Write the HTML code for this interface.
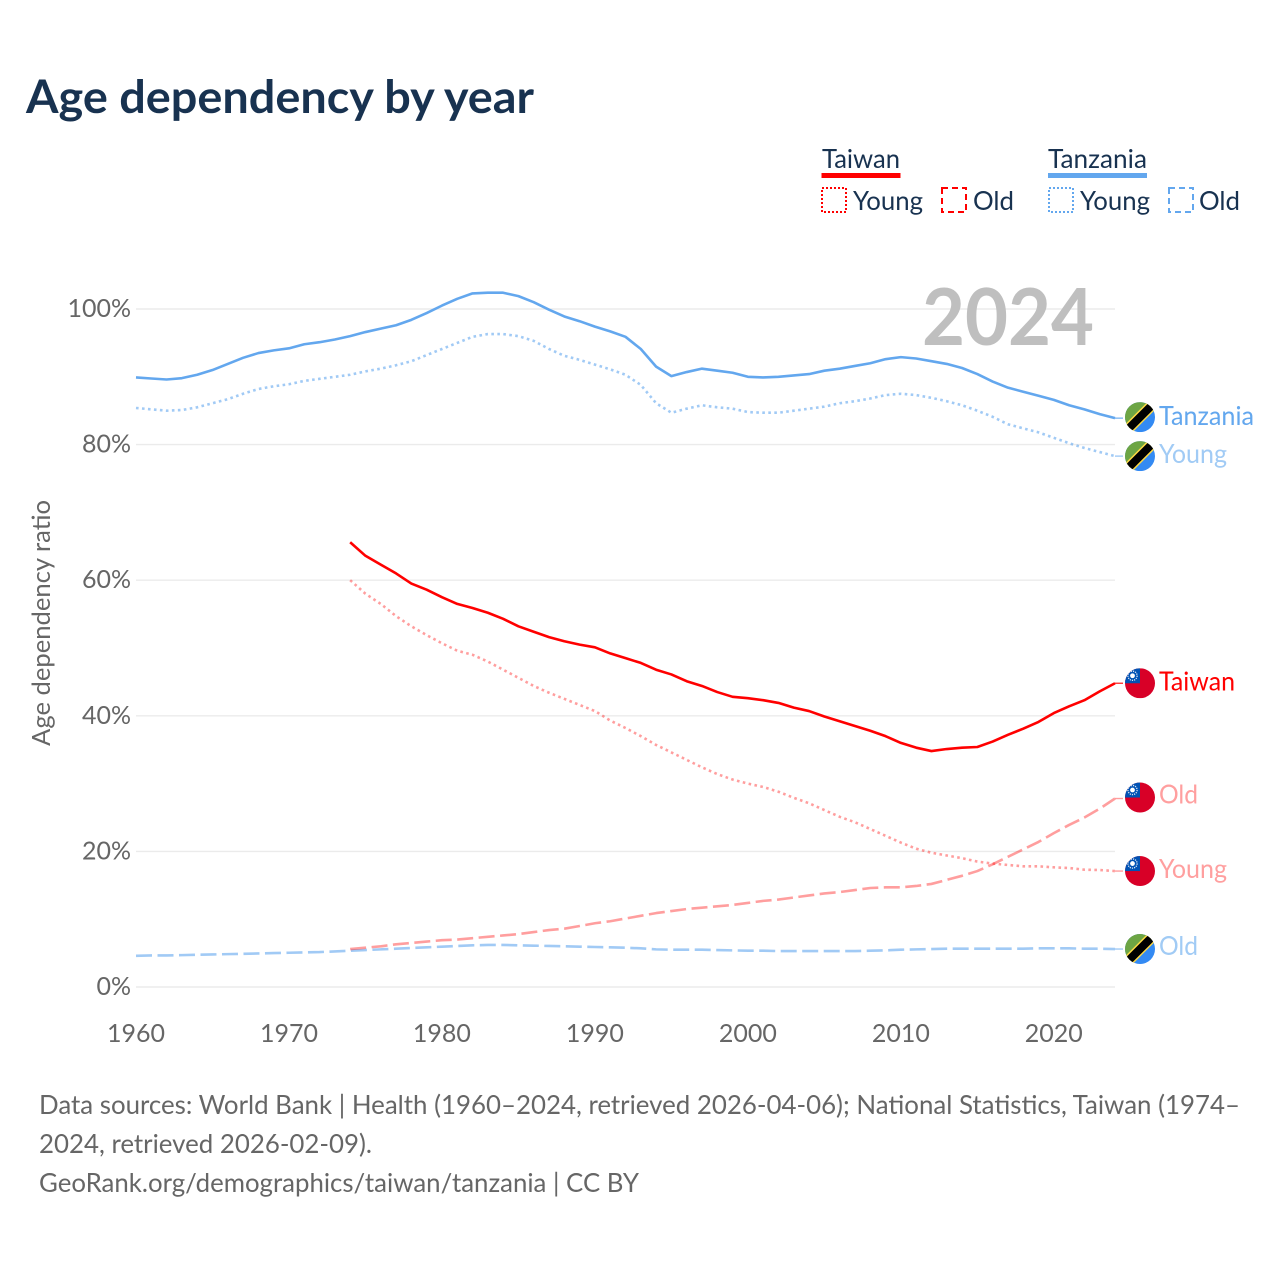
<!DOCTYPE html>
<html lang="en">
<head>
<meta charset="utf-8">
<title>Age dependency by year</title>
<style>
html,body{margin:0;padding:0;background:#fff;}
svg{display:block;}
text{font-family:"Lato","Carlito","Liberation Sans",sans-serif;}
</style>
</head>
<body>
<svg id="chart" xmlns="http://www.w3.org/2000/svg" width="1280" height="1280" viewBox="0 0 1280 1280">
  <rect width="1280" height="1280" fill="#ffffff"/>
  <text x="26" y="113" font-size="46" font-weight="700" fill="#183250" textLength="508" lengthAdjust="spacingAndGlyphs">Age dependency by year</text>

  <g font-size="26" fill="#183250">
    <text x="822" y="168" textLength="78" lengthAdjust="spacingAndGlyphs">Taiwan</text>
    <rect x="821.5" y="173" width="79" height="5" fill="#ff0000"/>
    <rect x="822" y="188" width="24" height="24" fill="none" stroke="#ff0000" stroke-width="2" stroke-dasharray="2 2"/>
    <text x="853" y="210" textLength="70" lengthAdjust="spacingAndGlyphs">Young</text>
    <rect x="942" y="188" width="24" height="24" fill="none" stroke="#ff0000" stroke-width="2" stroke-dasharray="6 4"/>
    <text x="973" y="210" textLength="41" lengthAdjust="spacingAndGlyphs">Old</text>
    <text x="1048" y="168" textLength="99" lengthAdjust="spacingAndGlyphs">Tanzania</text>
    <rect x="1048" y="173" width="99" height="5" fill="#63a7ee"/>
    <rect x="1049" y="188" width="24" height="24" fill="none" stroke="#63a7ee" stroke-width="2" stroke-dasharray="2 2"/>
    <text x="1080" y="210" textLength="70" lengthAdjust="spacingAndGlyphs">Young</text>
    <rect x="1169" y="188" width="24" height="24" fill="none" stroke="#63a7ee" stroke-width="2" stroke-dasharray="6 4"/>
    <text x="1199" y="210" textLength="41" lengthAdjust="spacingAndGlyphs">Old</text>
  </g>

  <g id="grid"></g>
  <g id="yticks"></g>
  <g id="xticks"></g>
  <text transform="translate(50,746) rotate(-90)" font-size="25" fill="#666666" textLength="246" lengthAdjust="spacingAndGlyphs">Age dependency ratio</text>
  <text x="922" y="345" font-size="79" font-weight="700" fill="#bfbfbf" textLength="172" lengthAdjust="spacingAndGlyphs">2024</text>
  <g id="series"></g>
  <g id="ends"></g>

  <g font-size="26" fill="#666666">
    <text x="39" y="1114" textLength="1201" lengthAdjust="spacingAndGlyphs">Data sources: World Bank | Health (1960–2024, retrieved 2026-04-06); National Statistics, Taiwan (1974–</text>
    <text x="39" y="1153" textLength="333" lengthAdjust="spacingAndGlyphs">2024, retrieved 2026-02-09).</text>
    <text x="39" y="1192" textLength="600" lengthAdjust="spacingAndGlyphs">GeoRank.org/demographics/taiwan/tanzania | CC BY</text>
  </g>
</svg>
<script>
const yTickValues = [0, 20, 40, 60, 80, 100];
const xTickYears = [1960, 1970, 1980, 1990, 2000, 2010, 2020];
const tanzaniaStart = 1960;
const taiwanStart = 1974;
const tanzaniaTotal = [89.9,89.75,89.6,89.8,90.3,91.0,91.9,92.8,93.5,93.9,94.2,94.8,95.1,95.5,96.0,96.6,97.1,97.6,98.4,99.4,100.5,101.5,102.3,102.4,102.4,101.9,101.0,99.9,98.9,98.2,97.4,96.7,95.9,94.1,91.5,90.1,90.7,91.2,90.9,90.6,90.0,89.9,90.0,90.2,90.4,90.9,91.2,91.6,92.0,92.6,92.9,92.7,92.3,91.9,91.3,90.4,89.3,88.4,87.8,87.2,86.6,85.8,85.2,84.5,83.9];
const tanzaniaYoung = [85.4,85.2,85.0,85.1,85.5,86.1,86.7,87.5,88.2,88.6,88.9,89.4,89.7,90.0,90.3,90.8,91.2,91.7,92.3,93.2,94.1,95.0,95.9,96.3,96.3,96.0,95.3,94.1,93.1,92.5,91.8,91.1,90.3,88.8,86.1,84.7,85.3,85.8,85.5,85.3,84.8,84.7,84.7,85.0,85.3,85.6,86.1,86.4,86.8,87.3,87.5,87.3,86.9,86.4,85.8,85.0,84.1,83.0,82.4,81.8,81.0,80.2,79.5,78.9,78.3];
const tanzaniaOld = [4.6,4.65,4.65,4.7,4.75,4.8,4.85,4.9,4.95,5.0,5.05,5.1,5.15,5.25,5.35,5.45,5.55,5.65,5.75,5.85,5.95,6.05,6.15,6.2,6.2,6.15,6.1,6.05,6.0,5.95,5.9,5.85,5.8,5.7,5.55,5.5,5.5,5.5,5.45,5.4,5.35,5.35,5.3,5.3,5.3,5.3,5.3,5.3,5.35,5.4,5.5,5.55,5.6,5.65,5.65,5.65,5.65,5.65,5.65,5.7,5.7,5.7,5.65,5.65,5.6];
const taiwanTotal = [65.6,63.6,62.3,61.0,59.5,58.6,57.5,56.5,55.9,55.2,54.3,53.2,52.4,51.6,51.0,50.5,50.1,49.2,48.5,47.8,46.8,46.1,45.1,44.4,43.5,42.8,42.6,42.3,41.9,41.2,40.7,39.9,39.2,38.5,37.8,37.0,36.0,35.3,34.8,35.1,35.3,35.4,36.2,37.2,38.1,39.1,40.4,41.4,42.3,43.6,44.8];
const taiwanYoung = [60.0,58.0,56.5,54.7,53.2,51.9,50.7,49.6,49.0,48.0,46.8,45.6,44.4,43.4,42.5,41.6,40.7,39.3,38.2,37.0,35.7,34.6,33.5,32.4,31.4,30.6,30.0,29.5,28.8,27.9,27.1,26.1,25.1,24.3,23.3,22.3,21.3,20.4,19.8,19.4,19.0,18.5,18.2,18.0,17.8,17.8,17.65,17.55,17.3,17.25,17.1];
const taiwanOld = [5.6,5.8,6.0,6.3,6.5,6.7,6.9,7.0,7.2,7.4,7.6,7.8,8.1,8.4,8.6,9.0,9.4,9.7,10.1,10.5,10.9,11.2,11.5,11.7,11.9,12.1,12.4,12.7,12.9,13.2,13.5,13.8,14.0,14.3,14.6,14.7,14.7,14.9,15.2,15.8,16.4,17.1,18.1,19.2,20.3,21.4,22.7,23.9,25.0,26.3,27.8];

const NS = 'http://www.w3.org/2000/svg';
const xScale = year => 136 + (year - 1960) * 15.297;
const yScale = value => 987 - value * 6.78;
function mk(tag, parent, attrs) {
  const el = document.createElementNS(NS, tag);
  for (const k in attrs) el.setAttribute(k, attrs[k]);
  parent.appendChild(el);
  return el;
}
const gridG = document.getElementById('grid');
const yG = document.getElementById('yticks');
const xG = document.getElementById('xticks');
const seriesG = document.getElementById('series');
const endsG = document.getElementById('ends');

yTickValues.forEach(v => {
  const line = mk('line', gridG, {x1: 136, x2: 1115, y1: yScale(v), y2: yScale(v), stroke: '#ebebeb', 'stroke-width': 1.4});
  
  
  const label = mk('text', yG, {x: 131, y: yScale(v) + 8, 'text-anchor': 'end', 'font-size': 25, fill: '#666666'});
  label.textContent = v + '%';
  
  
});
xTickYears.forEach(y => {
  const label = mk('text', xG, {x: xScale(y), y: 1042, 'text-anchor': 'middle', 'font-size': 25, fill: '#666666'});
  label.textContent = y;
  
  
});

function drawLine(name, values, start, color, opacity, dash) {
  const d = values.map((v, i) => (i ? 'L' : 'M') + xScale(start + i).toFixed(2) + ' ' + yScale(v).toFixed(2)).join(' ');
  const last = values[values.length - 1];
  const path = mk('path', seriesG, {d: d, fill: 'none', stroke: color, 'stroke-opacity': opacity, 'stroke-width': 2.6, 'stroke-linejoin': 'round'});
  if (dash) path.setAttribute('stroke-dasharray', dash);
  
  
  const stub = mk('line', seriesG, {x1: 1115, x2: 1123, y1: yScale(last), y2: yScale(last), stroke: color, 'stroke-opacity': Math.min(opacity, 0.8), 'stroke-width': 1.4});
  
  
}

const defs = mk('defs', document.getElementById('chart'), {});
let clipN = 0;
function drawFlag(name, country, cy) {
  const id = 'flagclip' + (clipN++);
  const cp = mk('clipPath', defs, {id: id});
  mk('circle', cp, {cx: 1140, cy: cy, r: 15});
  const g = mk('g', endsG, {'clip-path': 'url(#' + id + ')'});
  
  
  const l = 1125, t = cy - 15;
  if (country === 'taiwan') {
    mk('rect', g, {x: l, y: t, width: 30, height: 30, fill: '#d80027'});
    mk('rect', g, {x: l, y: t, width: 15, height: 15, fill: '#0052b4'});
    mk('circle', g, {cx: l + 7.5, cy: t + 7.5, r: 4.6, fill: 'none', stroke: '#ffffff', 'stroke-opacity': 0.85, 'stroke-width': 1.3, 'stroke-dasharray': '1.2 1'});
    mk('circle', g, {cx: l + 7.5, cy: t + 7.5, r: 2.4, fill: '#ffffff'});
  } else {
    mk('rect', g, {x: l, y: t, width: 30, height: 30, fill: '#338af3'});
    mk('polygon', g, {points: l + ',' + t + ' ' + (l + 30) + ',' + t + ' ' + l + ',' + (t + 30), fill: '#6da544'});
    mk('line', g, {x1: l, y1: t + 30, x2: l + 30, y2: t, stroke: '#ffda44', 'stroke-width': 11});
    mk('line', g, {x1: l, y1: t + 30, x2: l + 30, y2: t, stroke: '#000000', 'stroke-width': 8});
  }
}
function drawLabel(name, text, cy, color, width) {
  const label = mk('text', endsG, {x: 1159, y: cy + 8, 'font-size': 26, fill: color, textLength: width, lengthAdjust: 'spacingAndGlyphs'});
  label.textContent = text;
  
  
}

const tzColor = '#63a7ee';
const twColor = '#ff0000';
drawLine('tanzania-old', tanzaniaOld, tanzaniaStart, tzColor, 0.6, '16 5.5');
drawLine('taiwan-old', taiwanOld, taiwanStart, twColor, 0.38, '16 5.5');
drawLine('tanzania-young', tanzaniaYoung, tanzaniaStart, tzColor, 0.6, '2.6 3.4');
drawLine('taiwan-young', taiwanYoung, taiwanStart, twColor, 0.38, '2.6 3.4');
drawLine('tanzania-total', tanzaniaTotal, tanzaniaStart, tzColor, 1, '');
drawLine('taiwan-total', taiwanTotal, taiwanStart, twColor, 1, '');

const lastOf = a => a[a.length - 1];
drawFlag('tanzania-total', 'tanzania', yScale(lastOf(tanzaniaTotal)) - 1);
drawLabel('tanzania-total', 'Tanzania', yScale(lastOf(tanzaniaTotal)) - 1, '#63a7ee', 95);
drawFlag('tanzania-young', 'tanzania', yScale(lastOf(tanzaniaYoung)));
drawLabel('tanzania-young', 'Young', yScale(lastOf(tanzaniaYoung)) - 1, '#a1cbf5', 68);
drawFlag('taiwan-total', 'taiwan', yScale(lastOf(taiwanTotal)));
drawLabel('taiwan-total', 'Taiwan', yScale(lastOf(taiwanTotal)) - 1, '#ff0000', 76);
drawFlag('taiwan-old', 'taiwan', yScale(lastOf(taiwanOld)) - 1);
drawLabel('taiwan-old', 'Old', yScale(lastOf(taiwanOld)) - 3, '#ff9f9f', 39);
drawFlag('taiwan-young', 'taiwan', yScale(lastOf(taiwanYoung)));
drawLabel('taiwan-young', 'Young', yScale(lastOf(taiwanYoung)) - 1, '#ff9f9f', 68);
drawFlag('tanzania-old', 'tanzania', yScale(lastOf(tanzaniaOld)));
drawLabel('tanzania-old', 'Old', yScale(lastOf(tanzaniaOld)) - 2, '#a1cbf5', 39);
</script>
</body>
</html>
